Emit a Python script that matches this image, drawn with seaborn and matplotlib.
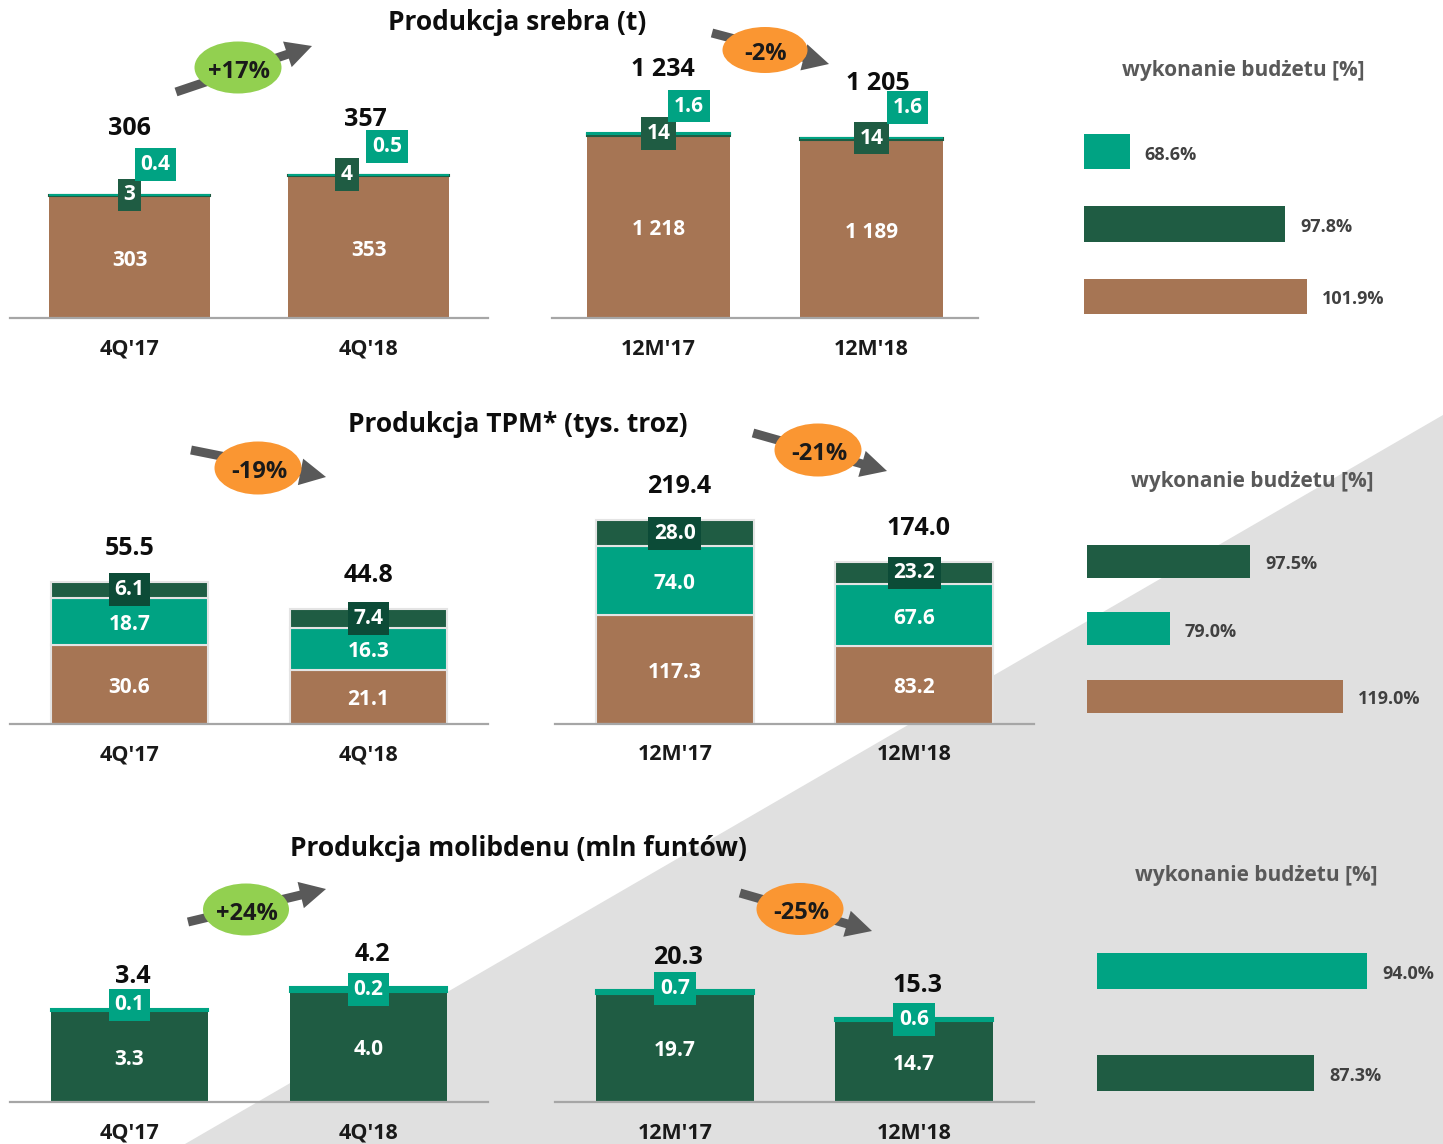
import matplotlib.pyplot as plt
import matplotlib.patches as mpatches
import numpy as np
import seaborn as sns

# Rozmiar obrazu (piksele)
W, H = 1443, 1144

# Kolory
BRAZ = '#A67554'
TURKUS = '#00A383'
ZIELEN = '#1F5C43'
ZIELEN_BOX = '#0C4B37'
POMARANCZ = '#FA9632'
JASNOZIELONY = '#92D050'
STRZALKA = '#595959'
SZARE_TLO = '#E0E0E0'
OS = '#A6A6A6'

# ---------------- Dane ----------------
okresy_q = ["4Q'17", "4Q'18"]
okresy_r = ["12M'17", "12M'18"]

# Produkcja srebra (t)
ag_pm_q = [303, 353]      # KGHM Polska Miedź
ag_sg_q = [3, 4]          # Sierra Gorda
ag_ki_q = [0.4, 0.5]      # KGHM INTERNATIONAL
ag_suma_q = [306, 357]
ag_pm_r = [1218, 1189]
ag_sg_r = [14, 14]
ag_ki_r = [1.6, 1.6]
ag_suma_r = [1234, 1205]

# Produkcja TPM (tys. troz)
tpm_pm_q = [30.6, 21.1]
tpm_ki_q = [18.7, 16.3]
tpm_sg_q = [6.1, 7.4]
tpm_suma_q = [55.5, 44.8]
tpm_pm_r = [117.3, 83.2]
tpm_ki_r = [74.0, 67.6]
tpm_sg_r = [28.0, 23.2]
tpm_suma_r = [219.4, 174.0]

# Produkcja molibdenu (mln funtów)
mo_sg_q = [3.3, 4.0]
mo_ki_q = [0.1, 0.2]
mo_suma_q = [3.4, 4.2]
mo_sg_r = [19.7, 14.7]
mo_ki_r = [0.7, 0.6]
mo_suma_r = [20.3, 15.3]

# Zmiany r/r
zmiany = ['+17%', '-2%', '-19%', '-21%', '+24%', '-25%']

# Wykonanie budżetu [%]
bud_ag_spolki = ['KGHM INTERNATIONAL', 'Sierra Gorda', 'KGHM Polska Miedź']
bud_ag = [68.6, 97.8, 101.9]
bud_tpm_spolki = ['Sierra Gorda', 'KGHM INTERNATIONAL', 'KGHM Polska Miedź']
bud_tpm = [97.5, 79.0, 119.0]
bud_mo_spolki = ['KGHM INTERNATIONAL', 'Sierra Gorda']
bud_mo = [94.0, 87.3]

tytuly = ['Produkcja srebra (t)', 'Produkcja TPM* (tys. troz)',
          'Produkcja molibdenu (mln funtów)']
tytul_budzetu = 'wykonanie budżetu [%]'

kolor_spolki = {'KGHM Polska Miedź': BRAZ, 'Sierra Gorda': ZIELEN,
                'KGHM INTERNATIONAL': TURKUS}


def tys(v):
    return f'{v:,.0f}'.replace(',', ' ')


# ---------------- Rysunek ----------------
sns.set_theme(style='white')
plt.rcParams['font.family'] = ['Open Sans', 'DejaVu Sans']
plt.rcParams['font.weight'] = 'bold'

fig = plt.figure(figsize=(W / 100, H / 100), dpi=100)


def prostokat(x0, x1, y_gora, y_dol):
    return [x0 / W, 1 - y_dol / H, (x1 - x0) / W, (y_dol - y_gora) / H]


# szare tło (trójkąt)
tlo = fig.add_axes([0, 0, 1, 1], zorder=-1)
tlo.set_xlim(0, W)
tlo.set_ylim(H, 0)
tlo.axis('off')
tlo.add_patch(mpatches.Polygon([(185, H), (W, 415), (W, H)], closed=True,
                               color=SZARE_TLO, lw=0))

WYS = 240  # wysokość osi słupków w pikselach


def slupki(x0, x1, y_base, skala, okresy, warstwy, kolory, szer, lw, krawedz=None):
    ax = fig.add_axes(prostokat(x0, x1, y_base - WYS, y_base))
    ax.set_facecolor('none')
    dol = np.zeros(len(okresy))
    for wart, kol, l in zip(warstwy, kolory, lw):
        sns.barplot(x=okresy, y=wart, bottom=dol.copy(), color=kol, width=szer,
                    saturation=1, errorbar=None, linewidth=l,
                    edgecolor=kol if krawedz is None else krawedz, ax=ax)
        dol = dol + np.asarray(wart, float)
    ax.set_xlim(-0.5, 1.5)
    ax.set_ylim(0, WYS / skala)
    sns.despine(ax=ax, left=True)
    ax.spines['bottom'].set_color(OS)
    ax.spines['bottom'].set_linewidth(1.6)
    ax.set_yticks([])
    ax.set_xlabel('')
    ax.tick_params(axis='x', length=0, pad=15, labelsize=15.5, labelcolor='#1A1A1A')
    return ax


def tekst(ax, x, y, s, dx=0, dy=0, size=15, color='white', box=None):
    kw = {}
    if box:
        kw['bbox'] = dict(boxstyle='square,pad=0.28', fc=box, ec='none')
    ax.annotate(s, xy=(x, y), xytext=(dx, dy), textcoords='offset pixels',
                ha='center', va='center', fontsize=size, fontweight='bold',
                color=color, **kw)


# --- Wiersz 1: srebro ---
for x0, x1, okresy, pm, sg, ki, suma, skala, uk in [
        (10, 488, okresy_q, ag_pm_q, ag_sg_q, ag_ki_q, ag_suma_q, 0.401,
         dict(sg_dx=[0, -21.5], ki_dx=[26, 18.5], ki_dy=[30.5, 28], s_dx=[0, -3], s_dy=[69, 58])),
        (552, 978, okresy_r, ag_pm_r, ag_sg_r, ag_ki_r, ag_suma_r, 0.1496,
         dict(sg_dx=[0, 0], ki_dx=[30.5, 36], ki_dy=[27.5, 30.5], s_dx=[4.5, 6], s_dy=[66, 57]))]:
    ax = slupki(x0, x1, 318, skala, okresy, [pm, sg, ki], [BRAZ, ZIELEN, TURKUS],
                0.67, [0, 1.5, 1.5])
    for i in range(2):
        tekst(ax, i, pm[i] / 2, tys(pm[i]), dy=-3)
        tekst(ax, i, pm[i] + sg[i] / 2, tys(sg[i]), dx=uk['sg_dx'][i], dy=1, box=ZIELEN)
        tekst(ax, i, pm[i] + sg[i] + ki[i] / 2, f'{ki[i]:.1f}', dx=uk['ki_dx'][i],
              dy=uk['ki_dy'][i], box=TURKUS)
        tekst(ax, i, pm[i] + sg[i] + ki[i], tys(suma[i]), dx=uk['s_dx'][i],
              dy=uk['s_dy'][i] - 2.5, size=18, color='#0D0D0D')

# --- Wiersz 2: TPM ---
for x0, x1, okresy, pm, ki, sg, suma, skala, s_dx in [
        (10, 488, okresy_q, tpm_pm_q, tpm_ki_q, tpm_sg_q, tpm_suma_q, 2.555, [0, 0]),
        (555, 1034, okresy_r, tpm_pm_r, tpm_ki_r, tpm_sg_r, tpm_suma_r, 0.927, [4, 4])]:
    ax = slupki(x0, x1, 723.5, skala, okresy, [pm, ki, sg], [BRAZ, TURKUS, ZIELEN],
                0.66, [1.5, 1.5, 1.5], krawedz='#E4E4E4')
    for i in range(2):
        tekst(ax, i, pm[i] / 2, f'{pm[i]:.1f}', dy=-3)
        tekst(ax, i, pm[i] + ki[i] / 2, f'{ki[i]:.1f}', dy=-3)
        tekst(ax, i, pm[i] + ki[i] + sg[i] / 2, f'{sg[i]:.1f}', dy=0, box=ZIELEN_BOX)
        tekst(ax, i, pm[i] + ki[i] + sg[i], f'{suma[i]:.1f}', dx=s_dx[i], dy=33.5,
              size=18, color='#0D0D0D')

# --- Wiersz 3: molibden ---
for x0, x1, okresy, sg, ki, suma, skala, ki_dy in [
        (10, 488, okresy_q, mo_sg_q, mo_ki_q, mo_suma_q, 27.4, [5, 0]),
        (555, 1034, okresy_r, mo_sg_r, mo_ki_r, mo_suma_r, 5.46, [4, 0])]:
    ax = slupki(x0, x1, 1101.7, skala, okresy, [sg, ki], [ZIELEN, TURKUS],
                0.66, [0, 1.5])
    for i in range(2):
        tekst(ax, i, sg[i] / 2, f'{sg[i]:.1f}', dy=-3)
        tekst(ax, i, sg[i] + ki[i] / 2, f'{ki[i]:.1f}', dy=ki_dy[i], box=TURKUS)
        tekst(ax, i, sg[i] + ki[i], f'{suma[i]:.1f}', dx=3.5, dy=32.5,
              size=18, color='#0D0D0D')


# --- Wykonanie budżetu ---
def budzet(x0, y_gora, y_dol, skala, spolki, wart, szer):
    ax = fig.add_axes(prostokat(x0, W, y_gora, y_dol))
    sns.barplot(x=wart, y=spolki, hue=spolki, orient='h',
                palette=[kolor_spolki[s] for s in spolki], width=szer,
                saturation=1, legend=False, errorbar=None, linewidth=0, ax=ax)
    ax.set_xlim(60, 60 + (W - x0) / skala)
    ax.set_ylim(len(spolki) - 0.5, -0.5)
    ax.axis('off')
    for i, v in enumerate(wart):
        ax.annotate(f'{v:.1f}%', xy=(v, i), xytext=(15, -3), textcoords='offset pixels',
                    ha='left', va='center', fontsize=13, fontweight='bold', color='#404040')


budzet(1084, 115.25, 332.75, 5.32, bud_ag_spolki, bud_ag, 0.483)
budzet(1087, 527.5, 730, 4.345, bud_tpm_spolki, bud_tpm, 0.49)
budzet(1096.5, 920, 1124, 7.97, bud_mo_spolki, bud_mo, 0.354)

# --- Nakładka: tytuły, strzałki, zmiany ---
nak = fig.add_axes([0, 0, 1, 1], zorder=5)
nak.set_xlim(0, W)
nak.set_ylim(H, 0)
nak.axis('off')

for t, (x, y) in zip(tytuly, [(517, 23), (518, 425), (518, 848)]):
    nak.text(x, y, t, ha='center', va='center', fontsize=19, fontweight='bold',
             color='#0D0D0D')

for x, y in [(1243, 70.5), (1252, 481), (1256, 876)]:
    nak.text(x, y, tytul_budzetu, ha='center', va='center', fontsize=15,
             fontweight='bold', color='#595959')

odznaki = [  # środek elipsy, rozmiar, początek i koniec strzałki
    (238, 67.5, 87, 52, (176, 92), (312, 46)),
    (765, 50, 85, 46, (712, 33), (829, 64)),
    (258, 468, 87, 53, (191, 450), (326, 477)),
    (818, 450, 87, 53, (753, 433), (887, 471)),
    (246, 909.5, 86, 52, (188, 922), (326, 889)),
    (800, 909, 87, 52, (740, 893), (872, 931)),
]
for z, (cx, cy, ew, eh, (ax0, ay0), (ax1, ay1)) in zip(zmiany, odznaki):
    nak.add_patch(mpatches.FancyArrow(ax0, ay0, ax1 - ax0, ay1 - ay0, width=9,
                                      head_width=27, head_length=26,
                                      length_includes_head=True, color=STRZALKA,
                                      lw=0, zorder=1))
    kol = JASNOZIELONY if z.startswith('+') else POMARANCZ
    nak.add_patch(mpatches.Ellipse((cx, cy), ew, eh, color=kol, lw=0, zorder=2))
    nak.text(cx + 1, cy + 4, z, ha='center', va='center', fontsize=17,
             fontweight='bold', color='#1A1A1A', zorder=3)

fig.savefig('out.png', dpi=100)
